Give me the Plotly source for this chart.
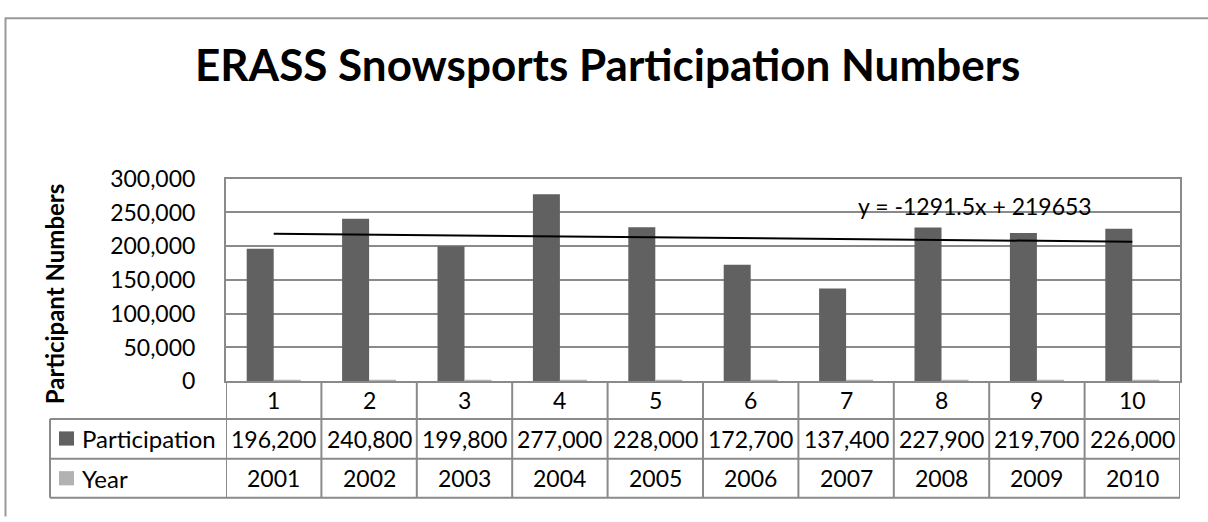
import numpy as np
import plotly.graph_objects as go

# ---- data ----
categories = [1, 2, 3, 4, 5, 6, 7, 8, 9, 10]
participation = [196200, 240800, 199800, 277000, 228000, 172700, 137400, 227900, 219700, 226000]
years = [2001, 2002, 2003, 2004, 2005, 2006, 2007, 2008, 2009, 2010]
y_ticks = [0, 50000, 100000, 150000, 200000, 250000, 300000]
series_names = ["Participation", "Year"]
title_text = "ERASS Snowsports Participation Numbers"
y_title = "Participant Numbers"

W, H = 1208, 522
FONT = "Lato"
DARK = "#616161"
LIGHT = "#b2b2b2"
GRID = "#8a8a8a"
BORDER = "#999999"


def px(x):
    return x / W


def py(y):
    return 1 - y / H


# layout geometry (pixels)
PLOT_L, PLOT_R, PLOT_T, PLOT_B = 226, 1180, 173, 387
ROW1_B, ROW2_B, ROW3_B = 427, 469, 510
TABLE_L = 50

# trendline from linear least squares of the data
slope, intercept = np.polyfit(categories, participation, 1)
trend = [slope * c + intercept for c in categories]

fig = go.Figure()
fig.add_trace(go.Bar(x=categories, y=participation, name=series_names[0],
                     marker=dict(color=DARK, line=dict(width=0))))
fig.add_trace(go.Bar(x=categories, y=years, name=series_names[1],
                     marker=dict(color=LIGHT, line=dict(width=0))))
fig.add_trace(go.Scatter(x=categories, y=trend, mode="lines",
                         line=dict(color="black", width=2), showlegend=False,
                         hoverinfo="skip"))

shapes = []
annotations = []

# outer chart border (left and top edges)
shapes.append(dict(type="line", xref="paper", yref="paper",
                   x0=px(5.5), x1=px(5.5), y0=py(3), y1=py(530),
                   line=dict(color=BORDER, width=2)))
shapes.append(dict(type="line", xref="paper", yref="paper",
                   x0=px(5), x1=px(1215), y0=py(3.5), y1=py(3.5),
                   line=dict(color=BORDER, width=2)))

# data table column lines (category boundaries)
for k in range(len(categories) + 1):
    shapes.append(dict(type="line", xref="x", yref="paper",
                       x0=k + 0.5, x1=k + 0.5, y0=py(PLOT_B), y1=py(ROW3_B),
                       line=dict(color=GRID, width=2)))
# row lines
for yy in (ROW1_B, ROW2_B, ROW3_B):
    shapes.append(dict(type="line", xref="paper", yref="paper",
                       x0=px(TABLE_L), x1=px(PLOT_R), y0=py(yy), y1=py(yy),
                       line=dict(color=GRID, width=2)))
shapes.append(dict(type="line", xref="paper", yref="paper",
                   x0=px(TABLE_L), x1=px(TABLE_L), y0=py(ROW1_B), y1=py(ROW3_B),
                   line=dict(color=GRID, width=2)))

# legend keys in table
for (top, col) in ((440, DARK), (482, LIGHT)):
    shapes.append(dict(type="rect", xref="paper", yref="paper",
                       x0=px(59), x1=px(74), y0=py(top), y1=py(top + 15),
                       fillcolor=col, line=dict(width=0)))

cell_font = dict(family=FONT, size=23, color="black")
row_centers = [(PLOT_B + ROW1_B) / 2, (ROW1_B + ROW2_B) / 2, (ROW2_B + ROW3_B) / 2]

for c, p, yr in zip(categories, participation, years):
    annotations.append(dict(x=c, y=py(row_centers[0]), xref="x", yref="paper",
                            text=str(c), showarrow=False, font=cell_font,
                            xanchor="center", yanchor="middle"))
    annotations.append(dict(x=c, y=py(row_centers[1]), xref="x", yref="paper",
                            text=f"{p:,}", showarrow=False, font=cell_font,
                            xanchor="center", yanchor="middle"))
    annotations.append(dict(x=c, y=py(row_centers[2]), xref="x", yref="paper",
                            text=str(yr), showarrow=False, font=cell_font,
                            xanchor="center", yanchor="middle"))

for name, yc in zip(series_names, row_centers[1:]):
    annotations.append(dict(x=px(80), y=py(yc), xref="paper", yref="paper",
                            text=name, showarrow=False,
                            font=dict(family=FONT, size=24, color="black"),
                            xanchor="left", yanchor="middle"))

# y axis title
annotations.append(dict(x=px(54), y=py(295), xref="paper", yref="paper",
                        text=f"<b>{y_title}</b>", showarrow=False, textangle=-90,
                        font=dict(family=FONT, size=24, color="black"),
                        xanchor="center", yanchor="middle"))

# trendline equation
eq = f"y = {slope:.1f}x + {intercept:.0f}"
annotations.append(dict(x=px(975), y=py(202), xref="paper", yref="paper",
                        text=eq, showarrow=False,
                        font=dict(family=FONT, size=23, color="black"),
                        xanchor="center", yanchor="middle"))

# title
annotations.append(dict(x=px(607), y=py(52), xref="paper", yref="paper",
                        text=f"<b>{title_text}</b>", showarrow=False,
                        font=dict(family=FONT, size=44, color="black"),
                        xanchor="center", yanchor="middle"))

fig.update_layout(
    width=W, height=H,
    margin=dict(l=0, r=0, t=0, b=0),
    paper_bgcolor="white", plot_bgcolor="white",
    showlegend=False,
    barmode="group", bargap=0.434, bargroupgap=0,
    shapes=shapes, annotations=annotations,
    font=dict(family=FONT, color="black"),
    xaxis=dict(domain=[px(PLOT_L), px(PLOT_R)], range=[0.5, 10.5],
               showticklabels=False, ticks="", showgrid=False, zeroline=False,
               showline=True, linecolor=GRID, linewidth=2, mirror=True),
    yaxis=dict(domain=[py(PLOT_B), py(PLOT_T)], range=[0, 300000],
               tickvals=y_ticks, tickformat=",", ticks="",
               tickfont=dict(family=FONT, size=23, color="black"),
               ticklabelstandoff=24,
               showgrid=True, gridcolor=GRID, gridwidth=2, zeroline=False,
               showline=True, linecolor=GRID, linewidth=2, mirror=True),
)

fig.write_html("out.html")
